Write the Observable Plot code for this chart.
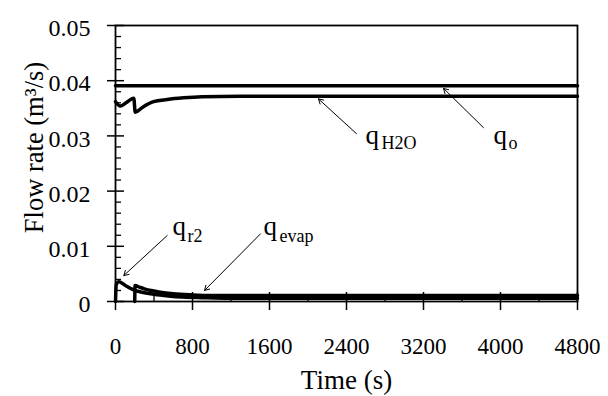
<!DOCTYPE html>
<html><head><meta charset="utf-8">
<script src="https://cdn.jsdelivr.net/npm/d3@7"></script>
<script src="https://cdn.jsdelivr.net/npm/@observablehq/plot@0.6"></script>
<style>body{margin:0;background:#fff} #chart{width:608px;height:396px} svg text{font-family:"Liberation Serif","Times New Roman",serif !important;}</style>
</head><body><div id="chart"></div>
<script>
// Tick values
const xTicks = [0, 800, 1600, 2400, 3200, 4000, 4800];
const xMinorTicks = [400, 1200, 2000, 2800, 3600, 4400];
const yTicks = [0, 0.01, 0.02, 0.03, 0.04, 0.05];
const yMinorTicks = [0.002,0.004,0.006,0.008,0.012,0.014,0.016,0.018,0.022,0.024,0.026,0.028,0.032,0.034,0.036,0.038,0.042,0.044,0.046,0.048];

// Series: q_o
const tO = [0, 4800];
const qO = [0.0391, 0.0391];
// Series: q_H2O
const tH2O = [0, 50, 110, 190, 205, 290, 395, 537, 706, 900, 1300, 4800];
const qH2O = [0.0362, 0.0354, 0.0360, 0.0368, 0.0343, 0.0353, 0.0362, 0.0366, 0.0369, 0.0371, 0.0372, 0.0372];
// Series: q_r2
const tR2 = [0, 8, 35, 60, 120, 200, 300, 400, 550, 700, 900, 1200, 4800];
const qR2 = [0, 0.0031, 0.0036, 0.0034, 0.0027, 0.0020, 0.0016, 0.0013, 0.0010, 0.0008, 0.0007, 0.0006, 0.0006];
// Series: q_evap
const tEvap = [200, 203, 250, 300, 400, 500, 600, 800, 1000, 4800];
const qEvap = [0, 0.0029, 0.0026, 0.0023, 0.0019, 0.0016, 0.0014, 0.0012, 0.0011, 0.0011];

// Annotation labels
const labelNames = ["q", "q", "q", "q"];
const labelSubs = ["H2O", "o", "r2", "evap"];
const labelX = [2597, 3927, 592, 1538];
const labelY = [0.0286, 0.0286, 0.01213, 0.01213];
const subX = [2763, 4083, 748, 1704];
const subY = [0.0277, 0.0277, 0.01086, 0.01086];
// Arrow tails and tips
const arrowX1 = [2504, 3823, 537, 1506];
const arrowY1 = [0.0304, 0.0315, 0.01195, 0.01225];
const arrowX2 = [2109, 3408, 86, 925];
const arrowY2 = [0.0367, 0.0386, 0.0047, 0.0020];

const xLabel = "Time (s)";
const yLabel = "Flow rate (m³/s)";

const FONT = "Liberation Serif";
const toRows = (ts, vs) => ts.map((t, i) => ({t, v: vs[i]}));
const labels = labelNames.map((n, i) => ({x: labelX[i], y: labelY[i], text: n}));
const subs = labelSubs.map((s, i) => ({x: subX[i], y: subY[i], text: s}));
const arrows = arrowX1.map((x, i) => ({x1: x, y1: arrowY1[i], x2: arrowX2[i], y2: arrowY2[i]}));

const chart = Plot.plot({
  width: 608, height: 396,
  marginLeft: 115, marginRight: 31, marginTop: 25, marginBottom: 95,
  x: {domain: [0, 4800], label: null},
  y: {domain: [0, 0.05], label: null},
  style: {fontFamily: FONT, fontSize: "23px", background: "white", color: "black"},
  marks: [
    Plot.lineY(toRows(tO, qO), {x: "t", y: "v", stroke: "black", strokeWidth: 3.5}),
    Plot.lineY(toRows(tH2O, qH2O), {x: "t", y: "v", stroke: "black", strokeWidth: 3.5, curve: "monotone-x"}),
    Plot.lineY(toRows(tR2, qR2), {x: "t", y: "v", stroke: "black", strokeWidth: 3.5, curve: "monotone-x"}),
    Plot.lineY(toRows(tEvap, qEvap), {x: "t", y: "v", stroke: "black", strokeWidth: 3.5, curve: "monotone-x"}),
    Plot.arrow(arrows, {x1: "x1", y1: "y1", x2: "x2", y2: "y2", stroke: "black", strokeWidth: 1, headLength: 8, bend: 0}),
    Plot.text(labels, {x: "x", y: "y", text: "text", fontFamily: FONT, fontSize: 27, textAnchor: "start", lineAnchor: "bottom"}),
    Plot.text(subs, {x: "x", y: "y", text: "text", fontFamily: FONT, fontSize: 18, textAnchor: "start", lineAnchor: "bottom"}),
    Plot.frame({stroke: "black", strokeWidth: 1.8}),
    // major ticks (crossing the axes)
    Plot.axisX(xTicks, {tickSize: 18, dy: -9, strokeWidth: 1.5, tickFormat: () => "", label: null}),
    Plot.axisX(xMinorTicks, {tickSize: 7, dy: -7, strokeWidth: 1.3, tickFormat: () => "", label: null}),
    Plot.axisX(xTicks, {tickSize: 0, tickPadding: 36, fontFamily: FONT, fontSize: 23, label: null, tickFormat: d => String(d)}),
    Plot.axisY(yTicks, {tickSize: 17, dx: 9, strokeWidth: 1.5, tickFormat: () => "", label: null}),
    Plot.axisY(yMinorTicks, {tickSize: 6, dx: 6, strokeWidth: 1.3, tickFormat: () => "", label: null}),
    Plot.axisY(yTicks, {tickSize: 0, tickPadding: 25, dy: 3, fontFamily: FONT, fontSize: 24, label: null, tickFormat: d => d === 0 ? "0" : d.toFixed(2)}),
    Plot.text([xLabel], {frameAnchor: "bottom", dy: 87, fontFamily: FONT, fontSize: 27, lineAnchor: "bottom", textAnchor: "middle"}),
    Plot.text([yLabel], {frameAnchor: "left", rotate: -90, dx: -73, dy: -16, fontFamily: FONT, fontSize: 26.5, lineAnchor: "bottom", textAnchor: "middle"})
  ]
});
document.getElementById("chart").appendChild(chart);
</script>
</body></html>
